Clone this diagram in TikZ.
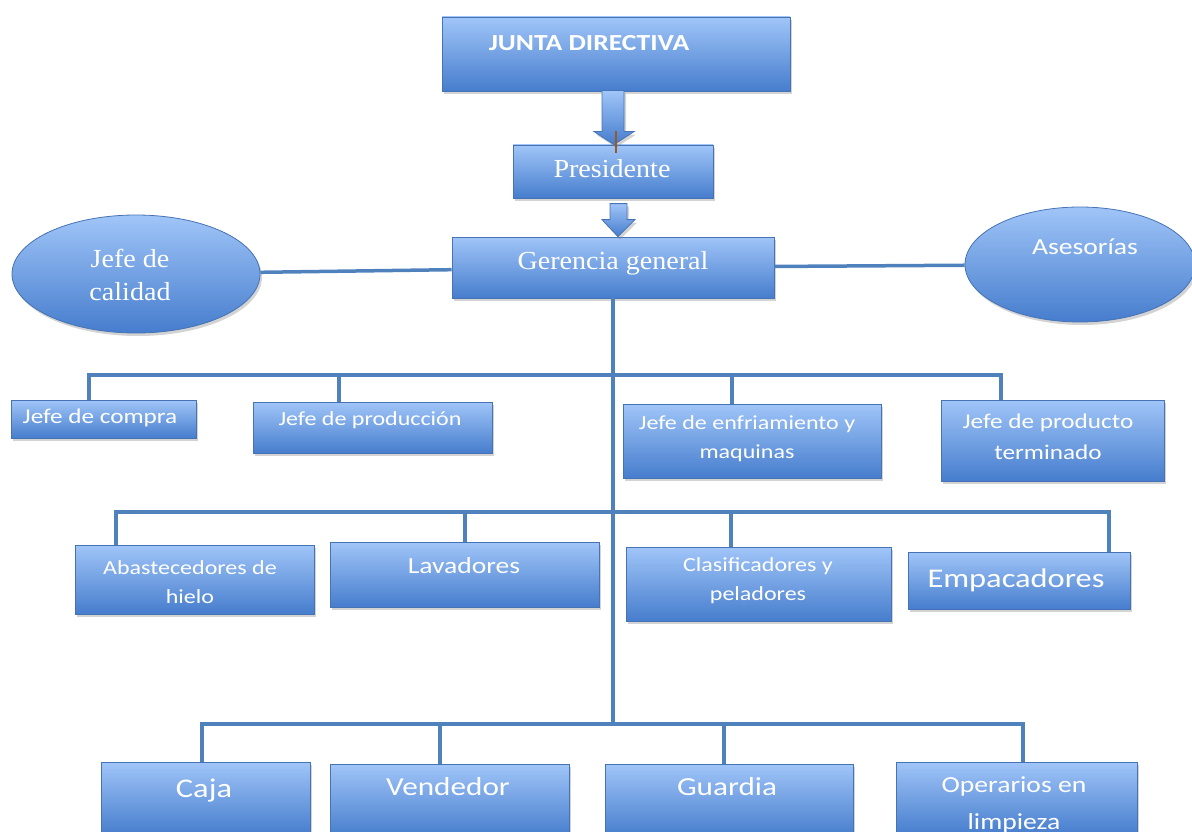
\documentclass[tikz,border=0pt]{standalone}
\usepackage{fontspec}
\setmainfont{Liberation Serif}
\newfontfamily\calib[FakeStretch=1.2]{Carlito}
\newfontfamily\cambr[FakeStretch=1.08]{Liberation Serif}
\usetikzlibrary{shapes.geometric,shadows,calc}
\definecolor{lnblue}{RGB}{79,129,189}
\definecolor{edgeb}{RGB}{70,115,180}
\definecolor{topb}{RGB}{160,197,248}
\definecolor{botb}{RGB}{70,125,205}
\definecolor{tick}{RGB}{150,90,40}
\tikzset{
  box/.style={draw=edgeb, line width=0.8pt, top color=topb, bottom color=botb,
    drop shadow={opacity=0.35, shadow xshift=2pt, shadow yshift=-3pt},
    inner sep=0pt, rectangle},
  oval/.style={box, ellipse},
  conn/.style={draw=lnblue, line width=3.5pt, line join=miter},
  lbl/.style={text=white, align=center, inner sep=0pt},
}
\begin{document}
\begin{tikzpicture}[x=1pt,y=-1pt]
\useasboundingbox (0,0) rectangle (1192,832);
\clip (0,0) rectangle (1192,832);

% connectors first (behind boxes)
\node[box, minimum width=322, minimum height=61] (ger) at (613,267.5) {};
\node[oval, minimum width=248, minimum height=118] (cal) at (136,274) {};
\node[oval, minimum width=230, minimum height=115] (ase) at (1080,264.5) {};

\coordinate (k1) at (89,375);  \coordinate (k2) at (339,375);
\coordinate (k3) at (732,375); \coordinate (k4) at (1001,375);
\coordinate (m1) at (116,512); \coordinate (m2) at (465,512);
\coordinate (m3) at (731,512); \coordinate (m4) at (1109,512);
\coordinate (n1) at (202,724); \coordinate (n2) at (440,724);
\coordinate (n3) at (724,724); \coordinate (n4) at (1023,724);
\coordinate (tb) at (613,724);

% boxes
\node[box, minimum width=348, minimum height=74] (jd) at (616,54) {};
\node[box, minimum width=200, minimum height=53] (pres) at (613,171.5) {};
\node[box, minimum width=185, minimum height=38] (cpr) at (103.5,419) {};
\node[box, minimum width=239, minimum height=51] (pro) at (372.5,427.5) {};
\node[box, minimum width=258, minimum height=74] (enf) at (752,441) {};
\node[box, minimum width=223, minimum height=81] (ter) at (1052.5,440.5) {};
\node[box, minimum width=239, minimum height=69] (aba) at (194.5,579.5) {};
\node[box, minimum width=269, minimum height=65] (lav) at (464.5,574.5) {};
\node[box, minimum width=265, minimum height=74] (cla) at (758.5,584) {};
\node[box, minimum width=222, minimum height=57] (emp) at (1019,580.5) {};
\node[box, minimum width=209, minimum height=73] (caja) at (205.5,798.5) {};
\node[box, minimum width=239, minimum height=73] (ven) at (449.5,800.5) {};
\node[box, minimum width=248, minimum height=73] (gua) at (729,800.5) {};
\node[box, minimum width=241, minimum height=73] (ope) at (1016.5,798.5) {};

% connectors
\draw[conn] (cal) -- (ger);
\draw[conn] (ger) -- (ase);
\draw[conn] (ger.south) -- (tb);
\draw[conn] (k1 |- cpr.north) -- (k1) -- (k4) -- (k4 |- ter.north);
\draw[conn] (k2) -- (k2 |- pro.north);
\draw[conn] (k3) -- (k3 |- enf.north);
\draw[conn] (m1 |- aba.north) -- (m1) -- (m4) -- (m4 |- emp.north);
\draw[conn] (m2) -- (m2 |- lav.north);
\draw[conn] (m3) -- (m3 |- cla.north);
\draw[conn] (n1 |- caja.north) -- (n1) -- (n4) -- (n4 |- ope.north);
\draw[conn] (n2) -- (n2 |- ven.north);
\draw[conn] (n3) -- (n3 |- gua.north);

% block arrows
\path[box] ($(pres.north)+(-11,-54)$) -- ($(pres.north)+(11,-54)$) -- ($(pres.north)+(11,-13)$)
  -- ($(pres.north)+(21,-13)$) -- ($(pres.north)+(1,0)$) -- ($(pres.north)+(-19,-13)$)
  -- ($(pres.north)+(-11,-13)$) -- cycle;
\path[box] ($(ger.north)+(-3,-33)$) -- ($(ger.north)+(14,-33)$) -- ($(ger.north)+(14,-17)$)
  -- ($(ger.north)+(22,-17)$) -- ($(ger.north)+(5,0)$) -- ($(ger.north)+(-11,-17)$)
  -- ($(ger.north)+(-3,-17)$) -- cycle;
\draw[tick, line width=1.5pt] ($(pres.north)+(3,-14)$) -- ($(pres.north)+(3,8)$);

% labels
\node[lbl, font=\calib\bfseries\fontsize{23}{27}\selectfont] (tjd) at (589,43) {JUNTA DIRECTIVA};
\node[lbl, font=\cambr\fontsize{26}{30}\selectfont] (tpres) at (612,169) {Presidente};
\node[lbl, font=\cambr\fontsize{26}{30}\selectfont] (tger) at (613,263) {Gerencia general};
\node[lbl, font=\cambr\fontsize{26}{33}\selectfont] (tcal) at (130,275) {Jefe de\\calidad};
\node[lbl, font=\calib\fontsize{23}{27}\selectfont] (tase) at (1085,247) {Asesorías};
\node[lbl, font=\calib\fontsize{21}{25}\selectfont] (tcpr) at (100,418) {Jefe de compra};
\node[lbl, font=\calib\fontsize{20}{24}\selectfont] (tpro) at (370,420) {Jefe de producción};
\node[lbl, font=\calib\fontsize{20}{29}\selectfont] (tenf) at (747,439) {Jefe de enfriamiento y\\maquinas};
\node[lbl, font=\calib\fontsize{21}{31}\selectfont] (tter) at (1048,437) {Jefe de producto\\terminado};
\node[lbl, font=\calib\fontsize{20}{29}\selectfont] (taba) at (190,582) {Abastecedores de\\hielo};
\node[lbl, font=\calib\fontsize{23}{27}\selectfont] (tlav) at (464,566) {Lavadores};
\node[lbl, font=\calib\fontsize{20}{29}\selectfont] (tcla) at (758,581) {Clasificadores y\\peladores};
\node[lbl, font=\calib\fontsize{27}{31}\selectfont] (temp) at (1016,580) {Empacadores};
\node[lbl, font=\calib\fontsize{27}{31}\selectfont] (tcaja) at (204,791) {Caja};
\node[lbl, font=\calib\fontsize{26}{30}\selectfont] (tven) at (448,787) {Vendedor};
\node[lbl, font=\calib\fontsize{26}{30}\selectfont] (tgua) at (727,787) {Guardia};
\node[lbl, font=\calib\fontsize{23}{37}\selectfont] (tope) at (1014,805) {Operarios en\\limpieza};
\end{tikzpicture}
\end{document}
